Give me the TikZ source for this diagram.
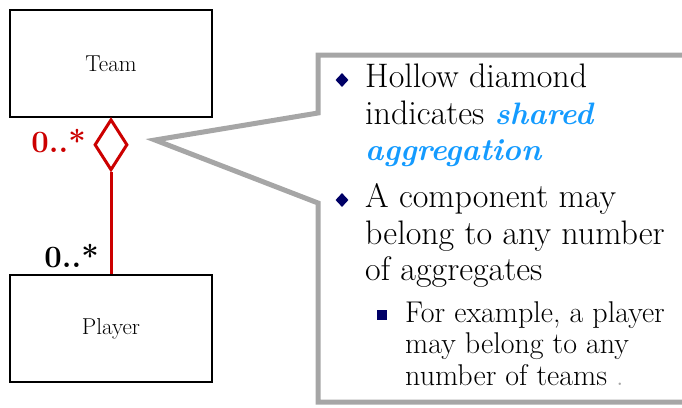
\documentclass[tikz,border=0pt]{standalone}
\usepackage{fontspec}
\usetikzlibrary{shapes.geometric}
\definecolor{aggred}{RGB}{204,0,0}
\definecolor{bulletnavy}{RGB}{0,0,102}
\definecolor{sharedblue}{RGB}{20,155,255}
\definecolor{calloutgray}{RGB}{166,166,166}
\newcommand{\sharedterm}[1]{\textcolor{sharedblue}{\fontsize{31}{36.5}\selectfont\bfseries\itshape #1}}
\begin{document}
\begin{tikzpicture}[x=1pt, y=-1pt,
    classbox/.style={draw, line width=1.5pt, minimum width=202pt, minimum height=107pt,
      font=\fontsize{23}{26}\selectfont},
    mult/.style={font=\fontsize{31}{36}\selectfont\bfseries, anchor=base east, inner sep=0pt},
    bodytext/.style={align=left, anchor=north west, inner sep=0pt,
      font=\fontsize{34}{36.5}\selectfont},
    subtext/.style={align=left, anchor=north west, inner sep=0pt,
      font=\fontsize{30}{31.5}\selectfont},
    bulletmark/.style={diamond, fill=bulletnavy, inner sep=0pt, minimum width=13pt, minimum height=14pt},
    subbullet/.style={fill=bulletnavy, inner sep=0pt, minimum size=10pt}]
  \useasboundingbox (0,0) rectangle (682,407);
  \clip (0,0) rectangle (682,407);
  % classes
  \node[classbox] (team) at (111,63.5) {Team};
  \node[classbox] (player) at (111,328.5) {Player};
  % shared aggregation
  \node[diamond, draw=aggred, line width=3pt, inner sep=0pt, minimum width=33pt,
    minimum height=51pt, anchor=north] (agg) at (team.south) {};
  \draw[aggred, line width=3pt] (agg.south) -- (player.north);
  \node[mult, text=aggred] (m1) at (86,152) {0..*};
  \node[mult] (m2) at (99,267) {0..*};
  % callout
  \draw[calloutgray, line width=5pt, line join=miter]
    (700,55) -- (318,55) -- (318,113) -- (155,140) -- (318,203) -- (318,402) -- (700,402);
  % bullets
  \node[bulletmark] (d1) at (342,80) {};
  \node[bulletmark] (d2) at (342,200) {};
  \node[subbullet] (s1) at (382,315) {};
  \node[bodytext] (t1) at (365,64) {Hollow diamond\\indicates \sharedterm{shared}\\
    \sharedterm{aggregation}};
  \node[bodytext] (t2) at (365,183.5) {A component may\\belong to any number\\of aggregates};
  \node[subtext] (t3) at (405,301) {For example, a player\\may belong to any\\number of teams \textcolor{calloutgray}{.}};
\end{tikzpicture}
\end{document}
